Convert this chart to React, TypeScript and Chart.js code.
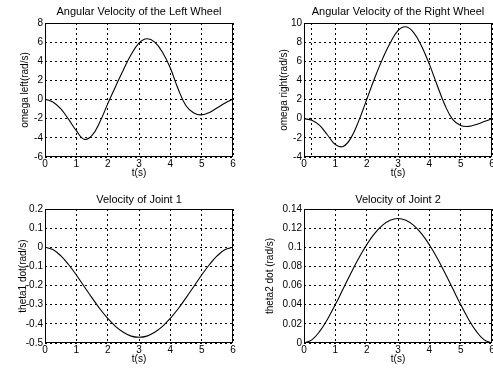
import { useEffect, useRef } from 'react';
import { Chart, registerables } from 'chart.js';

Chart.register(...registerables);

// ---- data ----
const timeValues = [0, 0.25, 0.5, 0.75, 1, 1.25, 1.5, 1.75, 2, 2.25, 2.5, 2.75, 3, 3.25, 3.5, 3.75, 4, 4.25, 4.5, 4.75, 5, 5.25, 5.5, 5.75, 6];
const omegaLeft = [0.05, -0.25, -0.95, -2.05, -3.25, -4.15, -3.75, -2.35, -0.45, 1.35, 3.1, 4.7, 5.9, 6.35, 6.0, 4.95, 3.3, 1.1, -0.65, -1.4, -1.6, -1.35, -0.85, -0.35, 0.05];
const omegaRight = [0, -0.15, -0.7, -1.7, -2.7, -2.9, -2.0, -0.2, 2.0, 4.2, 6.2, 7.9, 9.2, 9.6, 9.0, 7.6, 5.7, 3.5, 1.4, -0.1, -0.7, -0.8, -0.6, -0.3, 0];
const theta1Dot = [0, -0.012, -0.044, -0.09, -0.145, -0.205, -0.264, -0.321, -0.371, -0.413, -0.444, -0.464, -0.47, -0.464, -0.444, -0.413, -0.371, -0.321, -0.264, -0.205, -0.145, -0.09, -0.044, -0.012, 0];
const theta2Dot = [0, 0.0033, 0.0121, 0.0249, 0.0401, 0.0566, 0.0731, 0.0888, 0.1027, 0.1143, 0.1229, 0.1282, 0.13, 0.1282, 0.1229, 0.1143, 0.1027, 0.0888, 0.0731, 0.0566, 0.0401, 0.0249, 0.0121, 0.0033, 0];

const xTicks = [0, 1, 2, 3, 4, 5, 6];
const xTicksRightWheel = [0, 0.23, 1, 2, 3, 4, 5, 6];
const yTicksLeftWheel = [-6, -4, -2, 0, 2, 4, 6, 8];
const yTicksRightWheel = [-4, -2, 0, 2, 4, 6, 8, 10];
const yTicksJoint1 = [-0.5, -0.4, -0.3, -0.2, -0.1, 0, 0.1, 0.2];
const yTicksJoint2 = [0, 0.02, 0.04, 0.06, 0.08, 0.1, 0.12, 0.14];

const titles = ['Angular Velocity of the Left Wheel', 'Angular Velocity of the Right Wheel', 'Velocity of Joint 1', 'Velocity of Joint 2'];
const yAxisLabels = ['omega left(rad/s)', 'omega right(rad/s)', 'theta1 dot(rad/s)', 'theta2 dot (rad/s)'];
const xAxisLabel = 't(s)';

const FONT = '"Liberation Sans", Arial, Helvetica, sans-serif';

type Panel = {
  title: string;
  yLabel: string;
  values: number[];
  yTicks: number[];
  xTicks: number[];
  box: { left: number; top: number; width: number; height: number };
  yAxisWidth: number;
  xAxisHeight: number;
  padRight: number;
  titlePad: { top: number; bottom: number };
  yTitlePad: number;
  xTitlePad: number;
};

const panels: Panel[] = [
  {
    title: titles[0], yLabel: yAxisLabels[0], values: omegaLeft, yTicks: yTicksLeftWheel, xTicks,
    box: { left: 0, top: 0, width: 246, height: 185 },
    yAxisWidth: 45, xAxisHeight: 28, padRight: 13,
    titlePad: { top: 5, bottom: 4.8 }, yTitlePad: 19, xTitlePad: 6,
  },
  {
    title: titles[1], yLabel: yAxisLabels[1], values: omegaRight, yTicks: yTicksRightWheel, xTicks: xTicksRightWheel,
    box: { left: 246, top: 0, width: 247, height: 185 },
    yAxisWidth: 58, xAxisHeight: 28, padRight: 1,
    titlePad: { top: 5, bottom: 4.8 }, yTitlePad: 32, xTitlePad: 6,
  },
  {
    title: titles[2], yLabel: yAxisLabels[2], values: theta1Dot, yTicks: yTicksJoint1, xTicks,
    box: { left: 0, top: 186, width: 246, height: 184 },
    yAxisWidth: 45, xAxisHeight: 27, padRight: 13,
    titlePad: { top: 7, bottom: 2.8 }, yTitlePad: 17, xTitlePad: 5,
  },
  {
    title: titles[3], yLabel: yAxisLabels[3], values: theta2Dot, yTicks: yTicksJoint2, xTicks,
    box: { left: 246, top: 186, width: 247, height: 184 },
    yAxisWidth: 58, xAxisHeight: 27, padRight: 1,
    titlePad: { top: 7, bottom: 2.8 }, yTitlePad: 18, xTitlePad: 5,
  },
];

const boxPlugin = {
  id: 'axesBox',
  afterDraw(chart: any) {
    const { ctx, chartArea } = chart;
    const l = Math.round(chartArea.left) + 0.5;
    const t = Math.round(chartArea.top) + 0.5;
    const r = Math.round(chartArea.right) - 0.5;
    const b = Math.round(chartArea.bottom) - 0.5;
    ctx.save();
    ctx.setLineDash([]);
    ctx.strokeStyle = '#000';
    ctx.lineWidth = 1;
    ctx.strokeRect(l, t, r - l, b - t);
    ctx.restore();
  },
};

function fmt(v: number) {
  return String(Math.round(v * 1000) / 1000);
}

function SubPlot({ p }: { p: Panel }) {
  const ref = useRef<HTMLCanvasElement | null>(null);
  useEffect(() => {
    if (!ref.current) return;
    const chart = new Chart(ref.current, {
      type: 'line',
      data: {
        datasets: [
          {
            data: timeValues.map((x, i) => ({ x, y: p.values[i] })),
            borderColor: '#000',
            borderWidth: 1.1,
            pointRadius: 0,
            fill: false,
            tension: 0.4,
          },
        ],
      },
      options: {
        animation: false,
        responsive: false,
        maintainAspectRatio: false,
        devicePixelRatio: 1,
        events: [],
        layout: { padding: { left: 0, right: p.padRight, top: 0, bottom: 0 } },
        plugins: {
          legend: { display: false },
          tooltip: { enabled: false },
          title: {
            display: true,
            text: p.title,
            fullSize: false,
            color: '#000',
            font: { family: FONT, size: 11, weight: 'normal' },
            padding: p.titlePad,
          },
        },
        scales: {
          x: {
            type: 'linear',
            min: 0,
            max: 6,
            afterBuildTicks: (s: any) => {
              s.ticks = p.xTicks.map((v) => ({ value: v }));
            },
            afterFit: (s: any) => {
              s.height = p.xAxisHeight;
              s.paddingLeft = 0;
              s.paddingRight = 0;
            },
            ticks: {
              autoSkip: false,
              maxRotation: 0,
              padding: 1,
              color: '#000',
              font: { family: FONT, size: 10 },
              callback: (v: any) => (Number.isInteger(v) ? String(v) : ''),
            },
            grid: { color: '#000', lineWidth: 1, drawTicks: false },
            border: { display: false, dash: [2, 3] },
            title: {
              display: true,
              text: xAxisLabel,
              color: '#000',
              font: { family: FONT, size: 10 },
              padding: { top: 0, bottom: p.xTitlePad },
            },
          },
          y: {
            type: 'linear',
            min: p.yTicks[0],
            max: p.yTicks[p.yTicks.length - 1],
            afterBuildTicks: (s: any) => {
              s.ticks = p.yTicks.map((v) => ({ value: v }));
            },
            afterFit: (s: any) => {
              s.width = p.yAxisWidth;
              s.paddingTop = 0;
              s.paddingBottom = 0;
            },
            ticks: {
              autoSkip: false,
              padding: 2,
              color: '#000',
              font: { family: FONT, size: 10 },
              callback: (v: any) => fmt(Number(v)),
            },
            grid: { color: '#000', lineWidth: 1, drawTicks: false },
            border: { display: false, dash: [2, 3] },
            title: {
              display: true,
              text: p.yLabel,
              color: '#000',
              font: { family: FONT, size: 10 },
              padding: { top: p.yTitlePad, bottom: 0 },
            },
          },
        },
      } as any,
      plugins: [boxPlugin],
    });
    return () => chart.destroy();
  }, [p]);
  return (
    <canvas
      ref={ref}
      width={p.box.width}
      height={p.box.height}
      style={{
        position: 'absolute',
        left: p.box.left,
        top: p.box.top,
        width: p.box.width,
        height: p.box.height,
        display: 'block',
      }}
    />
  );
}

export default function App() {
  return (
    <div style={{ position: 'absolute', left: 0, top: 0, width: 493, height: 370, background: '#fff', overflow: 'hidden' }}>
      {panels.map((p, i) => (
        <SubPlot key={i} p={p} />
      ))}
    </div>
  );
}
